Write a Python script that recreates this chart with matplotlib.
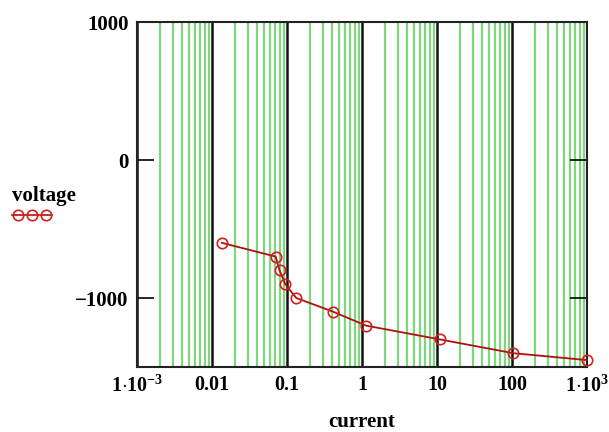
import matplotlib
matplotlib.use("Agg")
import matplotlib.pyplot as plt
import numpy as np
from matplotlib.ticker import FixedLocator, NullFormatter

current = [0.0135, 0.0706, 0.0796, 0.095, 0.133, 0.415, 1.13, 10.9, 104, 1000]
voltage = [-600, -700, -800, -900, -1000, -1100, -1200, -1300, -1400, -1450]
xticks = [1e-3, 1e-2, 1e-1, 1, 10, 100, 1e3]
xlabels = [r'$\mathbf{1{\cdot}10^{-3}}$', '0.01', '0.1', '1', '10', '100', r'$\mathbf{1{\cdot}10^{3}}$']
yticks = [-1000, 0, 1000]
ylabels = ['\u22121000', '0', '1000']

plt.rcParams['font.family'] = ['Liberation Serif', 'DejaVu Serif']
plt.rcParams['mathtext.fontset'] = 'custom'
plt.rcParams['mathtext.rm'] = 'Liberation Serif'
plt.rcParams['mathtext.it'] = 'Liberation Serif'
plt.rcParams['mathtext.bf'] = 'Liberation Serif:bold'

fig = plt.figure(figsize=(6.09, 4.32), dpi=100)
ax = fig.add_axes([137/609, 1-367/432, 450/609, 345/432])
ax.set_xscale('log')
ax.set_xlim(1e-3, 1e3)
ax.set_ylim(-1500, 1000)

minor = [m * 10.0**e for e in range(-3, 3) for m in range(2, 10)]
ax.xaxis.set_minor_locator(FixedLocator(minor))
ax.xaxis.set_minor_formatter(NullFormatter())
ax.set_xticks(xticks)
ax.set_xticklabels(xlabels, fontsize=14.5, fontweight='bold')
ax.grid(True, which='minor', axis='x', color='#7fd67f', lw=1.6)
ax.grid(True, which='major', axis='x', color='#111111', lw=1.8)
ax.set_axisbelow(True)

ax.set_yticks(yticks)
ax.set_yticklabels(ylabels, fontsize=15, fontweight='bold')
ax.tick_params(axis='y', direction='in', length=12, width=1.2, right=True, pad=6)
ax.tick_params(axis='x', which='both', length=0, pad=6)
for s in ax.spines.values():
    s.set_linewidth(1.5)
    s.set_color('#222222')

ax.plot(current, voltage, color='#b01010', lw=1.3, marker='o', ms=7.5,
        mfc='none', mec='#d02020', mew=1.2, clip_on=False, zorder=5)

ax.set_xlabel('current', fontsize=15, fontweight='bold', labelpad=11)

fig.text(12/609, 1-196/432, 'voltage', fontsize=15, fontweight='bold', va='center', ha='left')
lx = [18/609, 32/609, 46/609]
fig.lines.append(plt.Line2D([12/609, 52/609], [1-215/432, 1-215/432], transform=fig.transFigure,
                            color='#b01010', lw=1.2))
fig.lines.append(plt.Line2D(lx, [1-215/432]*3, transform=fig.transFigure, ls='none',
                            marker='o', ms=7.5, mfc='none', mec='#d02020', mew=1.2))

fig.savefig('out.png', dpi=100)
